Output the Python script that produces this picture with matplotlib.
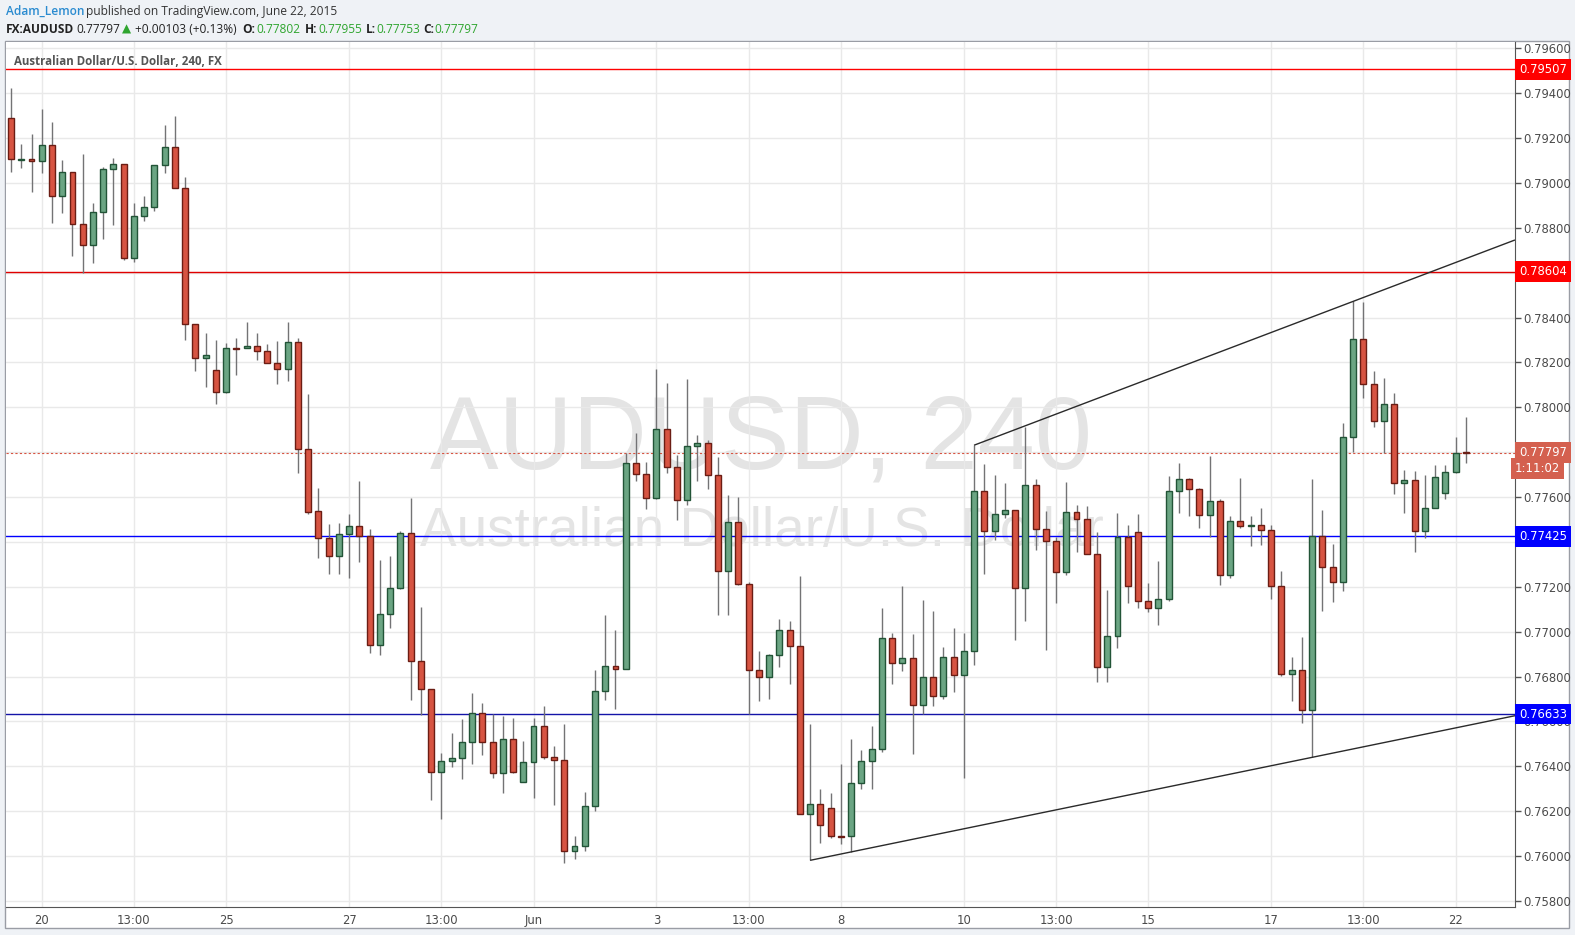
import matplotlib
matplotlib.use("Agg")
import matplotlib.pyplot as plt
from matplotlib.patches import Rectangle
from matplotlib.transforms import blended_transform_factory
from matplotlib import font_manager
from matplotlib.font_manager import FontProperties
import numpy as np

# AUDUSD 4h candles, May 20 - Jun 22 2015
opens = [0.79289, 0.79103, 0.79107, 0.79096, 0.79169, 0.78940, 0.79047, 0.78816, 0.78723, 0.78869,
         0.79060, 0.79083, 0.78664, 0.78851, 0.78891, 0.79079, 0.79159, 0.78976, 0.78370, 0.78218,
         0.78165, 0.78067, 0.78263, 0.78263, 0.78272, 0.78250, 0.78196, 0.78169, 0.78290, 0.77813,
         0.77537, 0.77416, 0.77336, 0.77434, 0.77470, 0.77425, 0.76939, 0.77078, 0.77193, 0.77438,
         0.76868, 0.76743, 0.76373, 0.76422, 0.76436, 0.76507, 0.76636, 0.76507, 0.76369, 0.76520,
         0.76329, 0.76418, 0.76578, 0.76440, 0.76427, 0.76021, 0.76044, 0.76222, 0.76734, 0.76846,
         0.76832, 0.77750, 0.77701, 0.77594, 0.77902, 0.77733, 0.77586, 0.77826, 0.77839, 0.77697,
         0.77269, 0.77487, 0.77211, 0.76828, 0.76797, 0.76895, 0.77006, 0.76935, 0.76186, 0.76231,
         0.76213, 0.76088, 0.76088, 0.76324, 0.76422, 0.76476, 0.76970, 0.76859, 0.76881, 0.76672,
         0.76797, 0.76712, 0.76886, 0.76806, 0.76913, 0.77626, 0.77447, 0.77523, 0.77541, 0.77193,
         0.77652, 0.77456, 0.77403, 0.77265, 0.77532, 0.77501, 0.77345, 0.76843, 0.76979, 0.77421,
         0.77443, 0.77135, 0.77104, 0.77144, 0.77626, 0.77679, 0.77634, 0.77519, 0.77581, 0.77251,
         0.77492, 0.77470, 0.77474, 0.77452, 0.77202, 0.76810, 0.76828, 0.76650, 0.77425, 0.77287,
         0.77220, 0.77866, 0.78303, 0.78102, 0.77938, 0.78013, 0.77661, 0.77675, 0.77447, 0.77550,
         0.77617, 0.77710, 0.77802]
highs = [0.79423, 0.79173, 0.79218, 0.79329, 0.79271, 0.79102, 0.79047, 0.79129, 0.78910, 0.79069,
         0.79111, 0.79083, 0.78910, 0.78941, 0.79079, 0.79258, 0.79298, 0.79026, 0.78370, 0.78331,
         0.78300, 0.78285, 0.78309, 0.78380, 0.78331, 0.78281, 0.78295, 0.78380, 0.78307, 0.78059,
         0.77641, 0.77480, 0.77485, 0.77525, 0.77672, 0.77458, 0.77319, 0.77337, 0.77447, 0.77596,
         0.77110, 0.76743, 0.76458, 0.76547, 0.76611, 0.76727, 0.76682, 0.76633, 0.76624, 0.76615,
         0.76513, 0.76615, 0.76669, 0.76491, 0.76589, 0.76088, 0.76284, 0.76829, 0.77073, 0.77008,
         0.77795, 0.77884, 0.77755, 0.78169, 0.78107, 0.77786, 0.78125, 0.77875, 0.77853, 0.77777,
         0.77608, 0.77599, 0.77220, 0.76913, 0.76899, 0.77055, 0.77048, 0.77247, 0.76590, 0.76299,
         0.76281, 0.76410, 0.76522, 0.76473, 0.76580, 0.77104, 0.76993, 0.77202, 0.76988, 0.77140,
         0.77091, 0.76930, 0.77015, 0.76993, 0.77831, 0.77747, 0.77698, 0.77663, 0.77541, 0.77913,
         0.77679, 0.77536, 0.77421, 0.77667, 0.77563, 0.77559, 0.77443, 0.77184, 0.77528, 0.77474,
         0.77523, 0.77216, 0.77315, 0.77694, 0.77750, 0.77684, 0.77639, 0.77783, 0.77590, 0.77514,
         0.77684, 0.77514, 0.77550, 0.77474, 0.77269, 0.76886, 0.76975, 0.77679, 0.77541, 0.77389,
         0.77930, 0.78472, 0.78468, 0.78162, 0.78129, 0.78062, 0.77719, 0.77715, 0.77697, 0.77741,
         0.77741, 0.77868, 0.77955]
lows = [0.79048, 0.79067, 0.78960, 0.79043, 0.78823, 0.78867, 0.78675, 0.78597, 0.78642, 0.78751,
        0.78814, 0.78656, 0.78649, 0.78832, 0.78876, 0.79042, 0.78976, 0.78301, 0.78163, 0.78092,
        0.78016, 0.78062, 0.78145, 0.78263, 0.78212, 0.78196, 0.78105, 0.78118, 0.77709, 0.77526,
        0.77330, 0.77259, 0.77259, 0.77241, 0.77312, 0.76906, 0.76895, 0.77018, 0.77189, 0.76697,
        0.76630, 0.76251, 0.76167, 0.76396, 0.76345, 0.76412, 0.76452, 0.76349, 0.76283, 0.76371,
        0.76329, 0.76260, 0.76431, 0.76229, 0.75971, 0.75988, 0.76021, 0.76202, 0.76697, 0.76657,
        0.76832, 0.77670, 0.77548, 0.77590, 0.77706, 0.77499, 0.77563, 0.77670, 0.77634, 0.77073,
        0.77073, 0.77207, 0.76635, 0.76692, 0.76701, 0.76841, 0.76769, 0.76186, 0.75981, 0.76057,
        0.76079, 0.76053, 0.76017, 0.76298, 0.76298, 0.76465, 0.76766, 0.76824, 0.76454, 0.76632,
        0.76668, 0.76699, 0.76730, 0.76347, 0.76850, 0.77258, 0.77407, 0.77505, 0.76962, 0.77046,
        0.77363, 0.76918, 0.77127, 0.77251, 0.77354, 0.77345, 0.76776, 0.76776, 0.76927, 0.77128,
        0.77107, 0.77089, 0.77029, 0.77135, 0.77528, 0.77514, 0.77461, 0.77421, 0.77207, 0.77238,
        0.77461, 0.77381, 0.77385, 0.77144, 0.76801, 0.76690, 0.76592, 0.76440, 0.77091, 0.77134,
        0.77181, 0.77801, 0.78043, 0.77913, 0.77795, 0.77612, 0.77528, 0.77354, 0.77416, 0.77550,
        0.77593, 0.77706, 0.77753]
closes = [0.79106, 0.79107, 0.79096, 0.79169, 0.78940, 0.79047, 0.78816, 0.78723, 0.78869, 0.79060,
          0.79083, 0.78664, 0.78851, 0.78891, 0.79079, 0.79159, 0.78976, 0.78370, 0.78218, 0.78232,
          0.78067, 0.78263, 0.78261, 0.78272, 0.78250, 0.78196, 0.78169, 0.78290, 0.77813, 0.77535,
          0.77416, 0.77336, 0.77434, 0.77470, 0.77425, 0.76939, 0.77078, 0.77193, 0.77438, 0.76868,
          0.76743, 0.76373, 0.76422, 0.76436, 0.76507, 0.76636, 0.76507, 0.76369, 0.76520, 0.76373,
          0.76418, 0.76578, 0.76440, 0.76427, 0.76021, 0.76044, 0.76222, 0.76734, 0.76846, 0.76832,
          0.77750, 0.77701, 0.77594, 0.77902, 0.77733, 0.77586, 0.77826, 0.77839, 0.77697, 0.77269,
          0.77487, 0.77211, 0.76828, 0.76797, 0.76895, 0.77006, 0.76935, 0.76186, 0.76231, 0.76137,
          0.76088, 0.76087, 0.76324, 0.76422, 0.76476, 0.76970, 0.76859, 0.76881, 0.76672, 0.76797,
          0.76712, 0.76886, 0.76806, 0.76913, 0.77626, 0.77447, 0.77523, 0.77541, 0.77193, 0.77652,
          0.77456, 0.77403, 0.77265, 0.77532, 0.77501, 0.77345, 0.76843, 0.76979, 0.77421, 0.77202,
          0.77135, 0.77104, 0.77144, 0.77626, 0.77679, 0.77634, 0.77519, 0.77581, 0.77251, 0.77492,
          0.77470, 0.77474, 0.77452, 0.77202, 0.76810, 0.76828, 0.76650, 0.77425, 0.77287, 0.77220,
          0.77866, 0.78303, 0.78102, 0.77938, 0.78013, 0.77661, 0.77675, 0.77447, 0.77550, 0.77688,
          0.77710, 0.77795, 0.77797]

# x-axis labels (bar index -> label)
tick_idx = [3, 12, 21, 33, 42, 51, 63, 72, 81, 93, 102, 111, 123, 132, 141]
tick_lbl = ["20", "13:00", "25", "27", "13:00", "Jun", "3", "13:00", "8", "10", "13:00", "15", "17", "13:00", "22"]

# horizontal levels and their colours
levels = [0.79507, 0.78604, 0.77425, 0.76633]
level_colors = ["#ff0000", "#e00000", "#0000ff", "#1414a8"]
last_price = 0.77797

# trend lines: two anchor points each (bar index, price)
trend_up = [(94, 0.77831), (131, 0.78472)]
trend_dn = [(78, 0.75981), (127, 0.76440)]

# pick a narrow font for the axis text if one is installed
axis_fp = None
for f in font_manager.fontManager.ttflist:
    if f.name == "Liberation Sans Narrow" and f.weight in (400, "normal", "regular"):
        axis_fp = f.fname
        break
if axis_fp is None:
    for f in font_manager.fontManager.ttflist:
        if f.name == "DejaVu Sans" and f.stretch == "condensed" and f.style == "normal" \
                and f.weight in (400, "normal", "regular", "book"):
            axis_fp = f.fname
            break
if axis_fp is not None:
    def axis_font(size, bold=False):
        return FontProperties(fname=axis_fp, size=size)
    ax_size = 9.3
else:
    def axis_font(size, bold=False):
        return FontProperties(family="Liberation Sans", size=size,
                              weight="bold" if bold else "normal")
    ax_size = 8.1
hdr = ["Open Sans", "DejaVu Sans"]

W, H = 1575, 935
def fx(px):
    return px / W
def fy(py):
    return 1 - py / H

fig = plt.figure(figsize=(15.75, 9.35), dpi=100, facecolor="#eff2f6")
fig.patches.append(Rectangle((fx(5), fy(928)), (1569 - 5) / W, (928 - 41) / H,
                             transform=fig.transFigure, fc="white", ec="#9a9da5", lw=1, zorder=-5))
ax = fig.add_axes([fx(6), fy(907), (1515 - 6) / W, (907 - 42) / H])
ax.set_facecolor("white")

x_left, x_right = -0.49, 146.8
ax.set_xlim(x_left, x_right)
ax.set_ylim(0.75773, 0.79628)

# grid
ax.set_yticks(np.arange(0.758, 0.7961, 0.002))
ax.set_xticks(tick_idx)
ax.set_xticklabels(tick_lbl)
ax.grid(color="#e9e9e9", lw=1)
ax.set_axisbelow(True)

# watermark
ax.text(0.5003, 0.538, "AUDUSD, 240", transform=ax.transAxes, ha="center", va="center",
        fontsize=74, family="Liberation Sans", color="#e4e4e4", zorder=0.5)
ax.text(0.501, 0.433, "Australian Dollar/U.S. Dollar", transform=ax.transAxes, ha="center",
        va="center", fontsize=39.5, family="Liberation Sans", color="#e4e4e4", zorder=0.5)

# candles
wick = "#737375"
for i, (o, h, l, c) in enumerate(zip(opens, highs, lows, closes)):
    up = c >= o
    ax.vlines(i, l, h, color=wick, lw=1, zorder=3)
    lo, hi = min(o, c), max(o, c)
    ax.add_patch(Rectangle((i - 0.29, lo), 0.58, max(hi - lo, 1e-7),
                           fc="#6ba583" if up else "#d75442",
                           ec="#225437" if up else "#6b1d14", lw=1, zorder=4))

# levels
for lv, col in zip(levels, level_colors):
    ax.axhline(lv, color=col, lw=1, zorder=2)
ax.axhline(last_price, color="#d75442", lw=0.8, ls=(0, (2, 2)), zorder=2)

# trend lines, extended to the right edge
for (x0, y0), (x1, y1) in (trend_up, trend_dn):
    slope = (y1 - y0) / (x1 - x0)
    ax.plot([x0, x_right], [y0, y1 + slope * (x_right - x1)], color="#2a2a2a", lw=1, zorder=5,
            solid_capstyle="butt")

# axes styling
for s in ("top", "left"):
    ax.spines[s].set_visible(False)
for s in ("right", "bottom"):
    ax.spines[s].set_color("#555555")
ax.yaxis.tick_right()
ax.yaxis.set_major_formatter(matplotlib.ticker.FormatStrFormatter("%.5f"))
ax.tick_params(axis="y", direction="out", length=4, width=1, color="#555555", pad=2,
               labelcolor="#4a4a4a")
ax.tick_params(axis="x", length=0, pad=5, labelcolor="#4a4a4a")
for t in ax.get_yticklabels() + ax.get_xticklabels():
    t.set_fontproperties(axis_font(ax_size, bold=(t.get_text() == "Jun")))

# price labels on the axis
tr = blended_transform_factory(fig.transFigure, ax.transData)
box_cols = ["#ff0000", "#ff0000", "#0000ff", "#0000ff"]
for lv, col in zip(levels, box_cols):
    ax.text(fx(1519), lv, f"{lv:.5f}", transform=tr, ha="left", va="center", color="white",
            fontproperties=axis_font(ax_size), zorder=6, clip_on=False,
            bbox=dict(boxstyle="square,pad=0.3", fc=col, ec="none"))
ax.text(fx(1519), last_price, f"{last_price:.5f}", transform=tr, ha="left", va="center",
        color="white", fontproperties=axis_font(ax_size), zorder=6, clip_on=False,
        bbox=dict(boxstyle="square,pad=0.3", fc="#d4604f", ec="none"))
ax.annotate("1:11:02", xy=(fx(1560), last_price), xycoords=tr, xytext=(0, -11.5),
            textcoords="offset points", ha="right", va="center", color="white",
            fontproperties=axis_font(ax_size), annotation_clip=False,
            bbox=dict(boxstyle="square,pad=0.3", fc="#d4604f", ec="none"))

# chart title inside the pane
fig.text(fx(14), fy(61.5), "Australian Dollar/U.S. Dollar, 240, FX", ha="left", va="center",
         family=hdr, fontsize=8.3, fontweight="bold", color="#555555")

# header
y1, y2 = fy(11.5), fy(29.5)
fig.text(fx(6), y1, "Adam_Lemon", ha="left", va="center", family=hdr, fontsize=8.6,
         fontweight="semibold", color="#2a8bd0")
fig.text(fx(86), y1, "published on TradingView.com, June 22, 2015", ha="left", va="center",
         family=hdr, fontsize=8.6, color="#333333")
green = "#2fa52f"
pieces = [(6, "FX:AUDUSD", "bold", "#222222"), (76, "0.77797", "normal", "#222222"),
          (122, "\u25b2", "normal", green), (135, "+0.00103 (+0.13%)", "normal", "#222222"),
          (242, "O:", "bold", "#222222"), (256, "0.77802", "normal", green),
          (305, "H:", "bold", "#222222"), (318, "0.77955", "normal", green),
          (366, "L:", "bold", "#222222"), (376, "0.77753", "normal", green),
          (423, "C:", "bold", "#222222"), (434, "0.77797", "normal", green)]
for px, s, wt, col in pieces:
    fig.text(fx(px), y2, s, ha="left", va="center", family=hdr, fontsize=8.6, fontweight=wt,
             color=col)

fig.savefig("out.png", dpi=100, facecolor=fig.get_facecolor())
